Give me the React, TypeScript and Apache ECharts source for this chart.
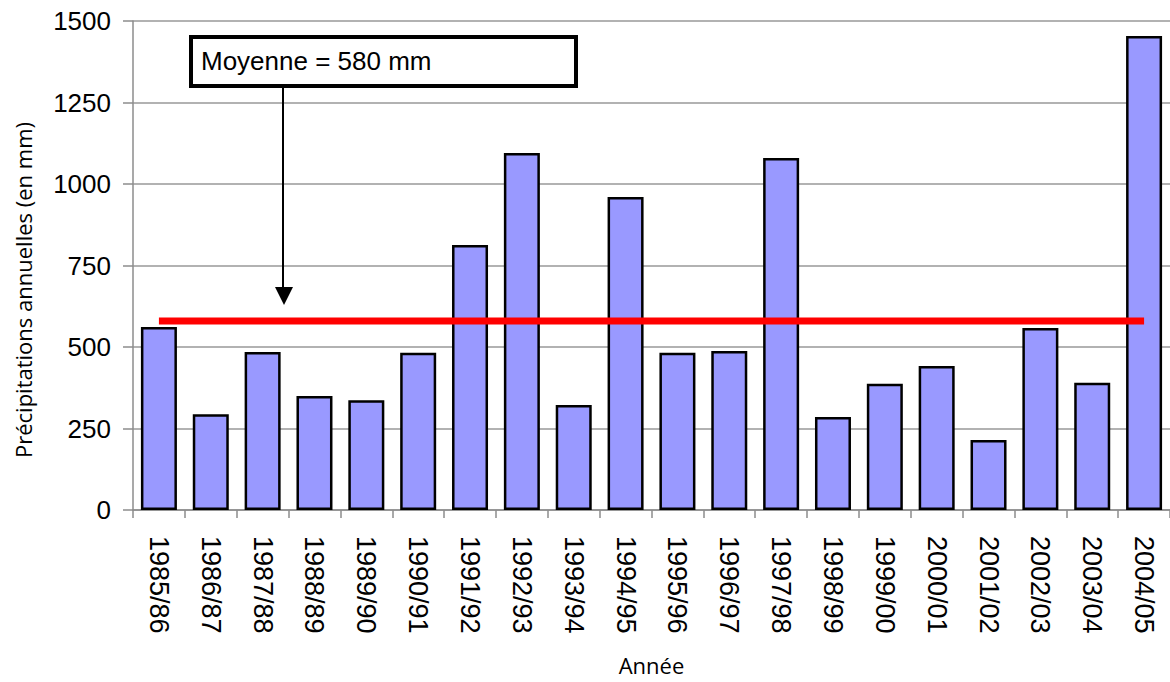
import React, { useEffect, useRef } from "react";
import * as echarts from "echarts";

// Hydrological years
const years: string[] = [
  "1985/86", "1986/87", "1987/88", "1988/89", "1989/90",
  "1990/91", "1991/92", "1992/93", "1993/94", "1994/95",
  "1995/96", "1996/97", "1997/98", "1998/99", "1999/00",
  "2000/01", "2001/02", "2002/03", "2003/04", "2004/05",
];

// Annual precipitation (mm)
const precipitation: number[] = [
  561, 294, 485, 350, 337,
  482, 813, 1095, 322, 960,
  482, 488, 1080, 285, 387,
  442, 215, 558, 390, 1454,
];

// Long-term mean (mm)
const meanValue = 580;
const meanSeries: number[] = years.map(() => meanValue);

const yTicks = { min: 0, max: 1500, interval: 250 };

export default function App() {
  const ref = useRef<HTMLDivElement>(null);

  useEffect(() => {
    if (!ref.current) return;
    const chart = echarts.init(ref.current, null, { renderer: "svg" });
    const axisGray = "#8c8c8c";

    chart.setOption({
      animation: false,
      backgroundColor: "#ffffff",
      grid: { left: 133, top: 21, width: 1040, height: 489, containLabel: false },
      xAxis: {
        type: "category",
        data: years,
        name: "Année",
        nameLocation: "middle",
        nameGap: 144,
        nameTextStyle: { fontFamily: "Open Sans", fontSize: 22, color: "#000" },
        axisLine: { lineStyle: { color: axisGray, width: 1.5 } },
        axisTick: { show: true, length: 8, alignWithLabel: false, lineStyle: { color: axisGray, width: 1.5 } },
        axisLabel: {
          rotate: -90,
          margin: 26,
          fontFamily: "Liberation Sans, Arial, sans-serif",
          fontSize: 27,
          color: "#000",
          interval: 0,
        },
      },
      yAxis: {
        type: "value",
        min: yTicks.min,
        max: yTicks.max,
        interval: yTicks.interval,
        axisLine: { show: true, lineStyle: { color: axisGray, width: 1.5 } },
        axisTick: { show: true, length: 10, lineStyle: { color: axisGray, width: 1.5 } },
        axisLabel: {
          margin: 22,
          fontFamily: "Liberation Sans, Arial, sans-serif",
          fontSize: 26,
          color: "#000",
          formatter: (v: number) => String(v),
        },
        splitLine: { show: true, lineStyle: { color: "#999999", width: 1.5 } },
      },
      series: [
        {
          type: "bar",
          data: precipitation,
          barWidth: 36,
          itemStyle: { color: "#9999ff", borderColor: "#000", borderWidth: 2.5 },
          z: 2,
        },
        {
          type: "line",
          data: meanSeries,
          symbol: "none",
          lineStyle: { color: "#ff0000", width: 7 },
          z: 3,
        },
      ],
      graphic: [
        {
          // y-axis title, sitting slightly below the plot's mid-height
          type: "text",
          x: 23,
          y: 290,
          rotation: Math.PI / 2,
          style: {
            text: "Précipitations annuelles (en mm)",
            font: "22px 'Open Sans', sans-serif",
            fill: "#000",
            align: "center",
            verticalAlign: "middle",
          },
        },
        {
          type: "line",
          shape: { x1: 283, y1: 88, x2: 283, y2: 290 },
          style: { stroke: "#000", lineWidth: 2 },
          z: 10,
        },
        {
          type: "polygon",
          shape: { points: [[275, 287], [293, 287], [284, 305]] },
          style: { fill: "#000" },
          z: 10,
        },
        {
          type: "rect",
          shape: { x: 191, y: 37, width: 385, height: 49 },
          style: { fill: "#fff", stroke: "#000", lineWidth: 4 },
          z: 10,
        },
        {
          type: "text",
          x: 201,
          y: 61,
          style: {
            text: `Moyenne = ${meanValue} mm`,
            font: "26px 'Liberation Sans', Arial, sans-serif",
            fill: "#000",
            verticalAlign: "middle",
            align: "left",
          },
          z: 11,
        },
      ],
    });

    return () => chart.dispose();
  }, []);

  return (
    <div
      ref={ref}
      style={{ position: "fixed", left: 0, top: 0, width: 1170, height: 682 }}
    />
  );
}
